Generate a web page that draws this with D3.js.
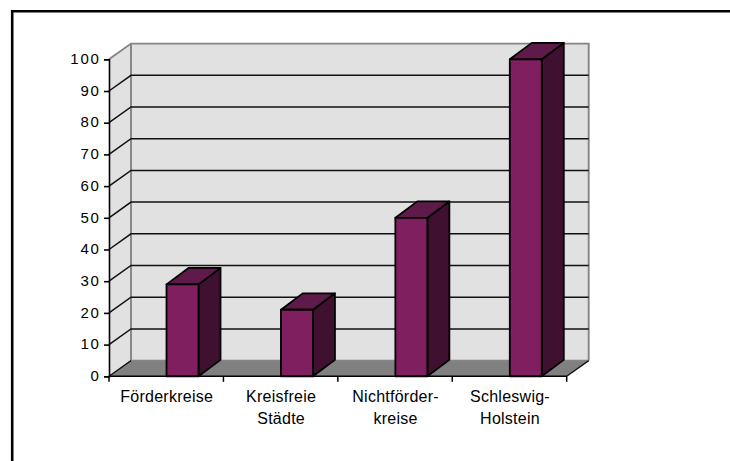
<!DOCTYPE html>
<html>
<head>
<meta charset="utf-8">
<script src="https://cdn.jsdelivr.net/npm/d3@7/dist/d3.min.js"></script>
<style>
html,body{margin:0;padding:0;background:#fff;overflow:hidden}
text{font-family:"Liberation Sans",Arial,sans-serif;fill:#000}
</style>
</head>
<body>
<svg id="chart" width="730" height="461"></svg>
<script>
// Chart data
const categories = ["Förderkreise", "Kreisfreie Städte", "Nichtförderkreise", "Schleswig-Holstein"];
const labelLines = [["Förderkreise"], ["Kreisfreie", "Städte"], ["Nichtförder-", "kreise"], ["Schleswig-", "Holstein"]];
const values = [29, 21, 50, 100];
const yTicks = [0, 10, 20, 30, 40, 50, 60, 70, 80, 90, 100];

// Palette
const wallColor = "#e1e1e1", floorColor = "#808080", edgeColor = "#858585";
const frontColor = "#7f1f5f", topColor = "#5e1a48", sideColor = "#3f1030";

const svg = d3.select("#chart");
const x = d3.scaleBand().domain(categories).range([109, 566.7]);
const y = d3.scaleLinear().domain([0, 100]).range([376.3, 59.3]);

// Oblique projection offset of the chart's depth axis
const dx = 22, dy = -15.7;
const barDepthX = 22, barDepthY = -16.4, barWidth = 32;
const poly = pts => pts.map(p => p.join(",")).join(" ");

// Outer frame: top and left rules only
svg.append("path").attr("d", "M12.2,461V11.2H730").attr("fill", "none").attr("stroke", "#000").attr("stroke-width", 2.6);

const [x0, x1] = x.range();
const yB = y(0), yT = y(100);

// Side wall, back wall and floor
svg.append("polygon").attr("points", poly([[x0, yB], [x0, yT], [x0 + dx, yT + dy], [x0 + dx, yB + dy]])).attr("fill", wallColor);
svg.append("polygon").attr("points", poly([[x0 + dx, yT + dy], [x1 + dx, yT + dy], [x1 + dx, yB + dy], [x0 + dx, yB + dy]])).attr("fill", wallColor);
svg.append("polygon").attr("points", poly([[x0, yB], [x0 + dx, yB + dy], [x1 + dx, yB + dy], [x1, yB]])).attr("fill", floorColor);

// Grey wall edges
svg.append("path").attr("d", `M${x0},${yT}L${x0 + dx},${yT + dy}H${x1 + dx}V${yB + dy}M${x0 + dx},${yT + dy}V${yB + dy}H${x1 + dx}`)
  .attr("fill", "none").attr("stroke", edgeColor).attr("stroke-width", 1.9);

// Gridlines wrap from the side wall onto the back wall
svg.append("g").selectAll("path").data(yTicks.filter(t => t > 0 && t < 100)).join("path")
  .attr("d", t => `M${x0},${y(t)}L${x0 + dx},${y(t) + dy}H${x1 + dx}`)
  .attr("fill", "none").attr("stroke", "#111").attr("stroke-width", 1.5);

// Floor edges at both ends of the category axis
svg.append("path").attr("d", `M${x0},${yB}L${x0 + dx},${yB + dy}M${x1},${yB}L${x1 + dx},${yB + dy}`)
  .attr("fill", "none").attr("stroke", "#111").attr("stroke-width", 1.3);

// Three-faced bars
const bars = svg.append("g").selectAll("g").data(categories).join("g")
  .attr("stroke", "#000").attr("stroke-width", 1.8).attr("stroke-linejoin", "round");
const left = c => x(c) + x.bandwidth() / 2 + 0.3;
const barTop = (c, i) => y(values[i]);
bars.append("polygon").attr("fill", sideColor).attr("points", (c, i) => {
  const r = left(c) + barWidth;
  return poly([[r, barTop(c, i)], [r + barDepthX, barTop(c, i) + barDepthY], [r + barDepthX, yB + barDepthY], [r, yB]]);
});
bars.append("polygon").attr("fill", topColor).attr("points", (c, i) => {
  const l = left(c), t = barTop(c, i);
  return poly([[l, t], [l + barDepthX, t + barDepthY], [l + barWidth + barDepthX, t + barDepthY], [l + barWidth, t]]);
});
bars.append("rect").attr("fill", frontColor)
  .attr("x", left).attr("y", barTop).attr("width", barWidth).attr("height", (c, i) => yB - barTop(c, i));

// Value axis
const yAxis = svg.append("g").attr("transform", `translate(${x0},0)`)
  .call(d3.axisLeft(y).tickValues(yTicks).tickSize(5).tickPadding(3.5));
yAxis.selectAll("path,line").attr("stroke", "#000").attr("stroke-width", 1.6);
yAxis.selectAll("text").attr("font-size", 15).attr("letter-spacing", 1.7).attr("fill", "#000").attr("dy", "0.28em")
  .style("font-family", '"Liberation Sans",Arial,sans-serif');

// Category axis: baseline with ticks on the band edges
svg.append("line").attr("x1", x0).attr("x2", x1).attr("y1", yB).attr("y2", yB).attr("stroke", "#000").attr("stroke-width", 1.6);
svg.append("g").selectAll("line").data(categories.map(c => x(c)).concat(x1)).join("line")
  .attr("x1", d => d).attr("x2", d => d).attr("y1", yB).attr("y2", yB + 5.5).attr("stroke", "#000").attr("stroke-width", 1.5);

// Category labels, one or two lines
const lab = svg.append("g").selectAll("text").data(categories).join("text")
  .attr("text-anchor", "middle").attr("font-size", 16).attr("letter-spacing", 0.25);
lab.selectAll("tspan").data((c, i) => labelLines[i].map(s => ({ s, c }))).join("tspan")
  .attr("x", d => x(d.c) + x.bandwidth() / 2 + 0.5)
  .attr("y", (d, j) => 401.7 + j * 22.6)
  .text(d => d.s);
</script>
</body>
</html>
